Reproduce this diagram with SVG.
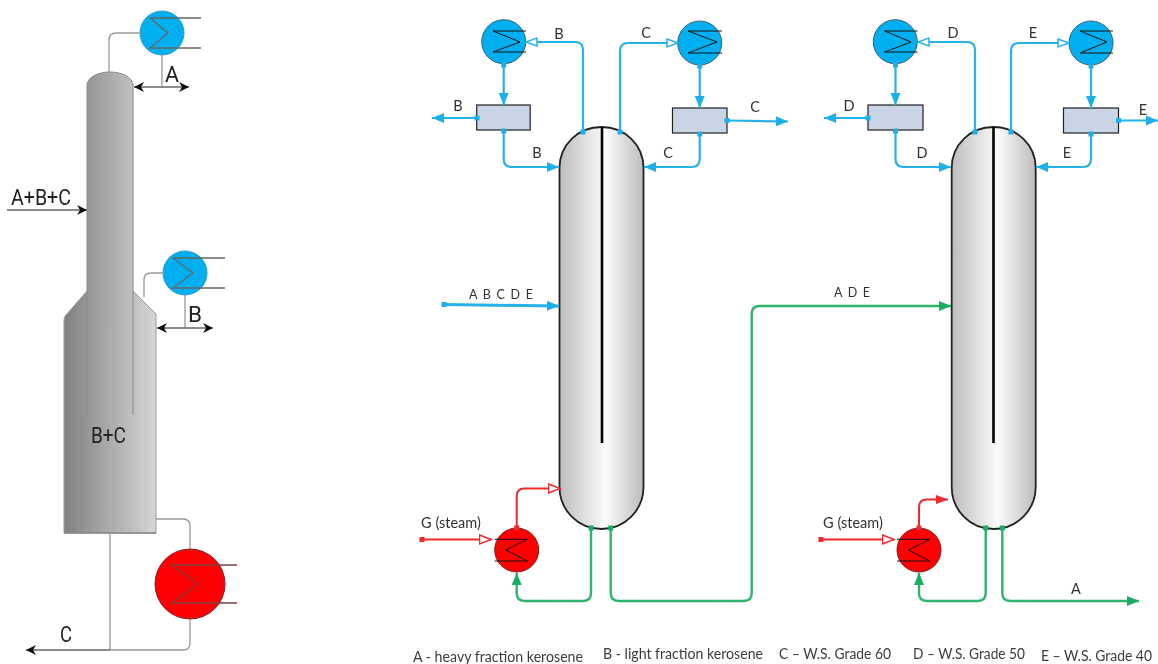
<svg xmlns="http://www.w3.org/2000/svg" width="1158" height="664" viewBox="0 0 1158 664">
<style>
svg>g{filter:url(#soft)}
text{font-family:"Lato","Liberation Sans",sans-serif;fill:#333;text-anchor:middle}
.l{font-size:14.500px}
.sp{font-size:12.500px}
.leg{font-size:14.500px;text-anchor:start;fill:#3c3c3c}
.din{font-family:"Roboto","Liberation Sans",sans-serif;font-size:22px;fill:#222;text-anchor:start}
.col{fill:url(#cg);stroke:#222;stroke-width:1.800}
.div{fill:none;stroke:#000;stroke-width:2.600}
.box{fill:#c9d5e4;stroke:#222;stroke-width:1.200}
.hb{fill:#00afef;stroke:#3d5f70;stroke-width:1}
.hr{fill:#fe0000;stroke:#7a2020;stroke-width:1}
.coil{fill:none;stroke:#111;stroke-width:1}
.p{fill:none;stroke-linejoin:round}
.b{stroke:#27b1e8;stroke-width:2.200}
.g{stroke:#2db46c;stroke-width:2.400}
.r{stroke:#ee2a2e;stroke-width:2}
.gy{fill:none;stroke:#999;stroke-width:1.300}
.ga{fill:none;stroke:#8a8a8a;stroke-width:1}
.k{fill:none;stroke:#666;stroke-width:1.300}
</style>
<defs>
<filter id="soft" filterUnits="userSpaceOnUse" x="0" y="0" width="1158" height="664"><feGaussianBlur stdDeviation="0.35"/></filter>
<linearGradient id="cg" x1="0" x2="1" y1="0" y2="0"><stop offset="0" stop-color="#bdbdbd"/><stop offset=".55" stop-color="#fbfbfb"/><stop offset="1" stop-color="#bcbcbc"/></linearGradient>
<linearGradient id="up" x1="0" x2="1" y1="0" y2="0"><stop offset="0" stop-color="#959595"/><stop offset="1" stop-color="#c0c0c0"/></linearGradient>
<linearGradient id="lo" x1="0" x2="1" y1="0" y2="0"><stop offset="0" stop-color="#808080"/><stop offset="1" stop-color="#d6d6d6"/></linearGradient>
<marker id="ab" markerUnits="userSpaceOnUse" markerWidth="13" markerHeight="12" refX="12" refY="6" orient="auto"><path d="M0 1 L12 6 L0 11Z" fill="#1fb0ea"/></marker>
<marker id="ag" markerUnits="userSpaceOnUse" markerWidth="13" markerHeight="12" refX="12" refY="6" orient="auto"><path d="M0 1 L12 6 L0 11Z" fill="#13ad60"/></marker>
<marker id="ar" markerUnits="userSpaceOnUse" markerWidth="13" markerHeight="12" refX="12" refY="6" orient="auto"><path d="M0 1.500 L12 6 L0 10.500Z" fill="#ee2a2e"/></marker>
<marker id="hb" markerUnits="userSpaceOnUse" markerWidth="14" markerHeight="12" refX="12" refY="6" orient="auto"><path d="M1 2 L12 6 L1 10Z" fill="#fff" stroke="#27b1e8" stroke-width="1.500"/></marker>
<marker id="hr" markerUnits="userSpaceOnUse" markerWidth="14" markerHeight="14" refX="12.500" refY="7" orient="auto"><path d="M1 2.500 L12.500 7 L1 11.500Z" fill="#fff" stroke="#ee2a2e" stroke-width="1.500"/></marker>
<marker id="sb" markerUnits="userSpaceOnUse" markerWidth="6" markerHeight="6" refX="3" refY="3" orient="auto"><rect width="5" height="5" x=".5" y=".5" fill="#1fb0ea"/></marker>
<marker id="sg" markerUnits="userSpaceOnUse" markerWidth="6" markerHeight="6" refX="3" refY="3" orient="auto"><rect width="5" height="5" x=".5" y=".5" fill="#13ad60"/></marker>
<marker id="sr" markerUnits="userSpaceOnUse" markerWidth="6" markerHeight="6" refX="3" refY="3" orient="auto"><rect width="5" height="5" x=".5" y=".5" fill="#ee2a2e"/></marker>
<marker id="ak" markerUnits="userSpaceOnUse" markerWidth="12" markerHeight="12" refX="10" refY="6" orient="auto-start-reverse"><path d="M0 1 L10 6 L0 11 L3 6Z" fill="#111"/></marker>
</defs>

<g id="left-column">
<path d="M64 533V320q0-3 2-5L87 291H133L156 314V533Z" fill="url(#lo)" stroke="#999" stroke-width="1"/>
<path d="M87 330V85A23 13 0 0 1 133 85V330Z" fill="url(#up)"/>
<path class="ga" d="M87 415V85A23 13 0 0 1 133 85V415"/>
<path d="M64 533H156" stroke="#888" stroke-width="1.500"/>
<text class="din" x="91" y="443" textLength="35" lengthAdjust="spacingAndGlyphs">B+C</text>
</g>
<g id="left-hx-a"><circle class="hb" style="stroke:#2a9fc8" cx="162" cy="33" r="22"/><path class="k" d="M201 18H150L168 33 150 48H201"/></g>
<g id="left-hx-b"><circle class="hb" style="stroke:#2a9fc8" cx="185" cy="273" r="22"/><path class="k" d="M225 258H173L193 273 173 288H225"/></g>
<g id="left-hx-c"><circle class="hr" cx="190" cy="584" r="35"/><path class="k" style="stroke:#7a4040" d="M237 565H172L197 584 172 603H237"/></g>

<g id="column-1"><path class="col" d="M559.500 168C559.500 145 578 127 601.500 127S643.500 145 643.500 168V487C643.500 510 625 529 601.500 529S559.500 510 559.500 487Z"/><path class="div" d="M602 127V443"/></g>
<g id="column-2"><path class="col" d="M951.700 168C951.700 145 970 127 993.500 127S1035.700 145 1035.700 168V487C1035.700 510 1017 529 993.500 529S951.700 510 951.700 487Z"/><path class="div" d="M993.500 127V443"/></g>

<g id="hx-b"><circle class="hb" cx="503.700" cy="41.700" r="22"/><path class="coil" d="M526 31H493L520 42 493 52H526"/></g>
<g id="hx-c"><circle class="hb" cx="699.700" cy="43" r="22"/><path class="coil" d="M722 31H688L717 42 688 53H722"/></g>
<g id="hx-d"><circle class="hb" cx="895.300" cy="41.700" r="22"/><path class="coil" d="M917.500 31H884.700L911 42 884.700 52H917.500"/></g>
<g id="hx-e"><circle class="hb" cx="1091" cy="43" r="22"/><path class="coil" d="M1113 31H1080L1107 42 1080 53H1113"/></g>
<g id="box-b"><rect class="box" x="476.700" y="105" width="53.500" height="25"/></g>
<g id="box-c"><rect class="box" x="672.500" y="108" width="54.500" height="25"/></g>
<g id="box-d"><rect class="box" x="868" y="105" width="55" height="25"/></g>
<g id="box-e"><rect class="box" x="1063.500" y="108" width="55" height="25"/></g>
<g id="hx-g1"><circle class="hr" cx="516.700" cy="550" r="22"/><path class="coil" d="M494.700 539.300H527.300L506 550 527.300 561H494.700"/></g>
<g id="hx-g2"><circle class="hr" cx="919" cy="550" r="22"/><path class="coil" d="M897 539.300H930L908.500 550 930 561H897"/></g>

<g id="connectors">
<path class="gy" d="M109 72V40q0-7 7-7H141"/>
<path class="gy" d="M162 55V87"/>
<path class="k" marker-start="url(#ak)" marker-end="url(#ak)" d="M134 87H189"/>
<path class="k" marker-end="url(#ak)" d="M7 210H87"/>
<path class="gy" d="M144 297V280q0-7 7-7H164"/>
<path class="gy" d="M185 295V328"/>
<path class="k" marker-start="url(#ak)" marker-end="url(#ak)" d="M157 328H213"/>
<path class="gy" d="M156 519H183q7 0 7 7V549"/>
<path class="gy" d="M190 619V643q0 7-7 7H110"/>
<path class="gy" d="M110 533V650"/>
<path class="k" marker-end="url(#ak)" d="M110 650H26"/>
<path class="p b" marker-start="url(#sb)" marker-end="url(#hb)" d="M583 132V50q0-8-8-8H526"/>
<path class="p b" marker-start="url(#sb)" marker-end="url(#hb)" d="M620 132V51q0-8 8-8H678"/>
<path class="p b" marker-start="url(#sb)" marker-end="url(#ab)" d="M503.700 65V105"/>
<path class="p b" marker-start="url(#sb)" marker-end="url(#ab)" d="M699.700 66V108"/>
<path class="p b" marker-start="url(#sb)" marker-end="url(#ab)" d="M477 118H432"/>
<path class="p b" marker-start="url(#sb)" marker-end="url(#ab)" d="M727 120.500L788 121.500"/>
<path class="p b" marker-start="url(#sb)" marker-end="url(#ab)" d="M503.700 131V159q0 8 8 8H559"/>
<path class="p b" marker-start="url(#sb)" marker-end="url(#ab)" d="M699.700 134V159q0 8-8 8H644"/>
<path class="p b" style="stroke-width:3" marker-start="url(#sb)" marker-end="url(#ab)" d="M444 304.500L559 306"/>
<path class="p r" marker-start="url(#sr)" marker-end="url(#hr)" d="M516.700 528V496q0-7.500 7.500-7.500H560"/>
<path class="p r" marker-start="url(#sr)" marker-end="url(#hr)" d="M422 539.500H491"/>
<path class="p g" marker-start="url(#sg)" marker-end="url(#ag)" d="M591 528V593q0 8-8 8H524.700q-8 0-8-8V573"/>
<path class="p g" marker-start="url(#sg)" marker-end="url(#ag)" d="M610.700 528V593q0 8 8 8H743.700q8 0 8-8V314q0-8 8-8H951"/>
<path class="p b" marker-start="url(#sb)" marker-end="url(#hb)" d="M975 132V50q0-8-8-8H918"/>
<path class="p b" marker-start="url(#sb)" marker-end="url(#hb)" d="M1011 132V51q0-8 8-8H1069"/>
<path class="p b" marker-start="url(#sb)" marker-end="url(#ab)" d="M895.500 65V105"/>
<path class="p b" marker-start="url(#sb)" marker-end="url(#ab)" d="M1091 66V108"/>
<path class="p b" marker-start="url(#sb)" marker-end="url(#ab)" d="M868 118H824"/>
<path class="p b" marker-start="url(#sb)" marker-end="url(#ab)" d="M1118.500 120.500H1158"/>
<path class="p b" marker-start="url(#sb)" marker-end="url(#ab)" d="M895.500 131V159q0 8 8 8H951"/>
<path class="p b" marker-start="url(#sb)" marker-end="url(#ab)" d="M1091 134V159q0 8-8 8H1036"/>
<path class="p r" marker-start="url(#sr)" marker-end="url(#ar)" d="M919 528V507q0-7.500 7.500-7.500H948"/>
<path class="p r" marker-start="url(#sr)" marker-end="url(#hr)" d="M821 539.500H894"/>
<path class="p g" marker-start="url(#sg)" marker-end="url(#ag)" d="M985.700 528V593q0 8-8 8H927q-8 0-8-8V573"/>
<path class="p g" marker-start="url(#sg)" marker-end="url(#ag)" d="M1002.300 528V593q0 8 8 8H1139"/>
</g>

<g id="labels">
<text class="din" x="165" y="82" textLength="14" lengthAdjust="spacingAndGlyphs">A</text>
<text class="din" x="188" y="322" textLength="14" lengthAdjust="spacingAndGlyphs">B</text>
<text class="din" x="11" y="205" textLength="60" lengthAdjust="spacingAndGlyphs">A+B+C</text>
<text class="din" x="60" y="642" textLength="12" lengthAdjust="spacingAndGlyphs">C</text>
<text class="l" x="559" y="39">B</text><text class="l" x="646" y="38">C</text>
<text class="l" x="458" y="110.500">B</text><text class="l" x="537" y="158">B</text>
<text class="l" x="668" y="158">C</text><text class="l" x="755" y="112">C</text>
<text class="l" x="953" y="38">D</text><text class="l" x="1033" y="38">E</text>
<text class="l" x="849" y="110.500">D</text><text class="l" x="922" y="158">D</text>
<text class="l" x="1067" y="158">E</text><text class="l" x="1143" y="115">E</text>
<text class="sp" x="501" y="299" word-spacing="2.500">A B C D E</text>
<text class="sp" x="852" y="297" word-spacing="2.500">A D E</text>
<text class="l" x="451" y="527.500">G (steam)</text>
<text class="l" x="853" y="527.500">G (steam)</text>
<text class="l" x="1076" y="593.500">A</text>
<text class="leg" x="413" y="661.500" textLength="170" lengthAdjust="spacingAndGlyphs">A - heavy fraction kerosene</text>
<text class="leg" x="603" y="659" textLength="160" lengthAdjust="spacingAndGlyphs">B - light fraction kerosene</text>
<text class="leg" x="779" y="659" textLength="112" lengthAdjust="spacingAndGlyphs">C – W.S. Grade 60</text>
<text class="leg" x="913" y="659" textLength="112" lengthAdjust="spacingAndGlyphs">D – W.S. Grade 50</text>
<text class="leg" x="1041" y="661" textLength="111" lengthAdjust="spacingAndGlyphs">E – W.S. Grade 40</text>
</g>
</svg>
